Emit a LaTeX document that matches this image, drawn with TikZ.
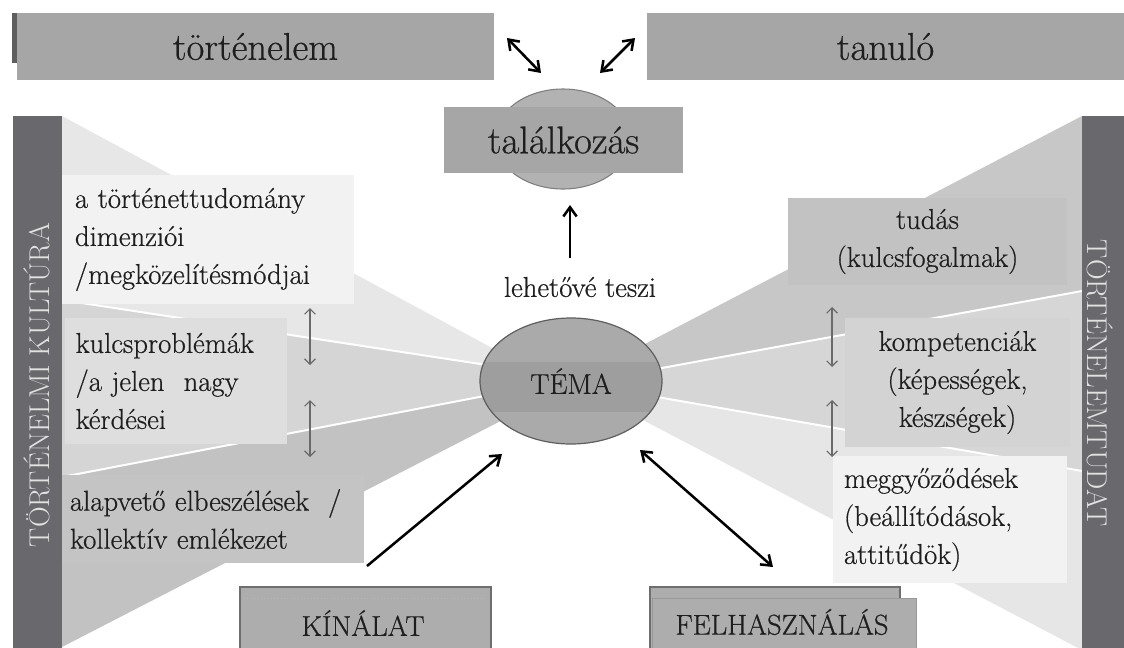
\documentclass[tikz,border=0pt]{standalone}
\usepackage{fontspec}
\setmainfont{Latin Modern Roman}[FakeBold=0.6]
\newfontfamily\barfont{Latin Modern Roman}
\usetikzlibrary{arrows.meta,shapes.geometric}
\definecolor{boxgray}{HTML}{A6A6A6}
\definecolor{meetell}{HTML}{B2B2B2}
\definecolor{temafill}{HTML}{AAAAAA}
\definecolor{temaband}{HTML}{9E9E9E}
\definecolor{edgegray}{HTML}{5E5E5E}
\definecolor{barcol}{HTML}{69686D}
\definecolor{bartxt}{HTML}{E2E2E2}
\definecolor{txt}{HTML}{1E1E1E}
\definecolor{fanLa}{HTML}{E7E7E7}
\definecolor{fanLb}{HTML}{D5D5D5}
\definecolor{fanLc}{HTML}{C2C2C2}
\definecolor{fanRa}{HTML}{C7C7C7}
\definecolor{fanRb}{HTML}{D6D6D6}
\definecolor{fanRc}{HTML}{E6E6E6}
\definecolor{boxA}{HTML}{F2F2F2}
\definecolor{boxB}{HTML}{DEDEDE}
\definecolor{boxC}{HTML}{C4C4C4}
\definecolor{boxRa}{HTML}{C2C2C2}
\definecolor{boxRb}{HTML}{D3D3D3}
\definecolor{botfill}{HTML}{ADADAD}
\definecolor{botline}{HTML}{6E6E6E}
\definecolor{smallarr}{HTML}{6A6A6A}
\begin{document}
\begin{tikzpicture}[x=0.75pt,y=-0.75pt,
  bigbox/.style={fill=boxgray, inner sep=0pt, text=txt, font=\fontsize{29}{34}\selectfont},
  sidetext/.style={inner sep=0pt, text=txt, font=\fontsize{21.5}{28.5}\selectfont},
  lbox/.style={sidetext, align=left},
  rbox/.style={sidetext, align=center},
  bartext/.style={inner sep=0pt, text=bartxt, font=\barfont\fontsize{21.5}{26}\selectfont},
  botbox/.style={fill=botfill, draw=botline, line width=1.2pt},
  bigarrow/.style={line width=1.9pt, draw=black, {Straight Barb[length=7pt,width=10pt]}-{Straight Barb[length=7pt,width=10pt]}},
  uparrow/.style={line width=1.9pt, draw=black, -{Straight Barb[length=7pt,width=10pt]}},
  smallarrow/.style={line width=0.9pt, draw=smallarr, {Straight Barb[length=4pt,width=8pt]}-{Straight Barb[length=4pt,width=8pt]}},
  sep/.style={draw=white, line width=1.5pt}
]
\clip (0,0) rectangle (1124,647);
\fill[white] (0,0) rectangle (1124,647);

% left fan
\fill[fanLa] (62,116) -- (520,363) -- (520,370) -- (62,300) -- cycle;
\fill[fanLb] (62,300) -- (520,370) -- (520,389) -- (62,477) -- cycle;
\fill[fanLc] (62,477) -- (520,389) -- (520,411) -- (62,647) -- cycle;
\draw[sep] (62,300) -- (500,367);
\draw[sep] (62,477) -- (500,393);
% right fan
\fill[fanRa] (1082,116) -- (620,357) -- (620,376) -- (1082,291) -- cycle;
\fill[fanRb] (1082,291) -- (620,376) -- (620,390) -- (1082,471) -- cycle;
\fill[fanRc] (1082,471) -- (620,390) -- (620,408) -- (1082,650) -- cycle;
\draw[sep] (1082,291) -- (640,372);
\draw[sep] (1082,471) -- (640,394);

% side bars
\fill[barcol] (13,116) rectangle (62,660);
\node[bartext, rotate=90] (kultura) at (37,385) {TÖRTÉNELMI KULTÚRA};
\fill[barcol] (1082,116) rectangle (1130,660);
\node[bartext, rotate=-90] (tudat) at (1100,383) {TÖRTÉNELEMTUDAT};

% top boxes
\fill[edgegray] (12,13) rectangle (20,63);
\node[bigbox, minimum width=357.75pt, minimum height=50.25pt] (hist) at (255.5,46.5) {történelem};
\node[bigbox, minimum width=357.75pt, minimum height=50.25pt] (learner) at (885.5,46.5) {tanuló};

% találkozás
\node[ellipse, fill=meetell, draw=edgegray!80, line width=0.8pt, minimum width=102pt, minimum height=75pt, inner sep=0pt] (meetE) at (563,139) {};
\node[bigbox, minimum width=179.25pt, minimum height=49.5pt] (meet) at (563.5,140) {találkozás};

% TÉMA
\node[ellipse, fill=temafill, draw=edgegray, line width=0.9pt, minimum width=136.5pt, minimum height=94.5pt, inner sep=0pt, text=txt, font=\fontsize{21.5}{26}\selectfont,
  path picture={\fill[temaband] ([yshift=14.25pt]path picture bounding box.west) rectangle ([yshift=-23.25pt]path picture bounding box.east);}] (tema) at (571,381) {TÉMA};

\node[sidetext] (enable) at (580,287) {lehetővé teszi};

% left boxes
\node[lbox, fill=boxA, minimum width=219pt, minimum height=96.75pt, text width=199.5pt, inner xsep=9.75pt] (b1) at (208,239.5) {a történettudomány\\dimenziói\\/megközelítésmódjai};
\node[lbox, fill=boxB, minimum width=166.5pt, minimum height=94.5pt, text width=150.5pt, inner xsep=8pt] (b2) at (176,381) {kulcsproblémák\\/a jelen\ \ nagy\\kérdései};
\node[lbox, fill=boxC, minimum width=226.5pt, minimum height=66pt, text width=214.5pt, inner xsep=6pt] (b3) at (213,519) {alapvető elbeszélések\ \ /\\kollektív emlékezet};

% right boxes
\node[rbox, fill=boxRa, minimum width=209.25pt, minimum height=65.25pt] (r1) at (927.5,241.5) {tudás\\(kulcsfogalmak)};
\node[rbox, fill=boxRb, minimum width=168.75pt, minimum height=96.75pt] (r2) at (957.5,382.5) {kompetenciák\\(képességek,\\készségek)};
\node[lbox, fill=boxA, minimum width=175.5pt, minimum height=95.25pt, text width=159pt, inner xsep=8.25pt] (r3) at (950,519.5) {meggyőződések\\(beállítódások,\\attitűdök)};

% bottom boxes
\path[botbox] (240,587) rectangle (491,660);
\draw[botline!50, line width=0.5pt, dotted] (244,598) -- (487,598);
\node[sidetext, minimum width=182.25pt, minimum height=34.5pt] (offer) at (363,623) {KÍNÁLAT};
\path[botbox] (650,587) rectangle (900,660);
\path[fill=botfill, draw=botline!70, line width=0.6pt] (652,598) rectangle (916,660);
\node[sidetext, minimum width=198pt, minimum height=36pt] (use) at (782,622) {FELHASZNÁLÁS};

% connectors
\coordinate (a1s) at (507,38); \coordinate (a1e) at (541,73);
\coordinate (a2s) at (600,73); \coordinate (a2e) at (635,38);
\coordinate (a3s) at (570,258); \coordinate (a3e) at (570,205);
\coordinate (a4s) at (367,566); \coordinate (a4e) at (502,454);
\coordinate (a5s) at (640,450); \coordinate (a5e) at (773,567);
\draw[bigarrow] (a1s) -- (a1e);
\draw[bigarrow] (a2s) -- (a2e);
\draw[uparrow] (a3s) -- (a3e);
\draw[uparrow] (a4s) -- (a4e);
\draw[bigarrow] (a5s) -- (a5e);

\coordinate (s1a) at (310,308); \coordinate (s1b) at (310,365);
\coordinate (s2a) at (310,400); \coordinate (s2b) at (310,457);
\coordinate (s3a) at (832,307); \coordinate (s3b) at (832,367);
\coordinate (s4a) at (832,400); \coordinate (s4b) at (832,457);
\draw[smallarrow] (s1a) -- (s1b);
\draw[smallarrow] (s2a) -- (s2b);
\draw[smallarrow] (s3a) -- (s3b);
\draw[smallarrow] (s4a) -- (s4b);
\end{tikzpicture}
\end{document}
